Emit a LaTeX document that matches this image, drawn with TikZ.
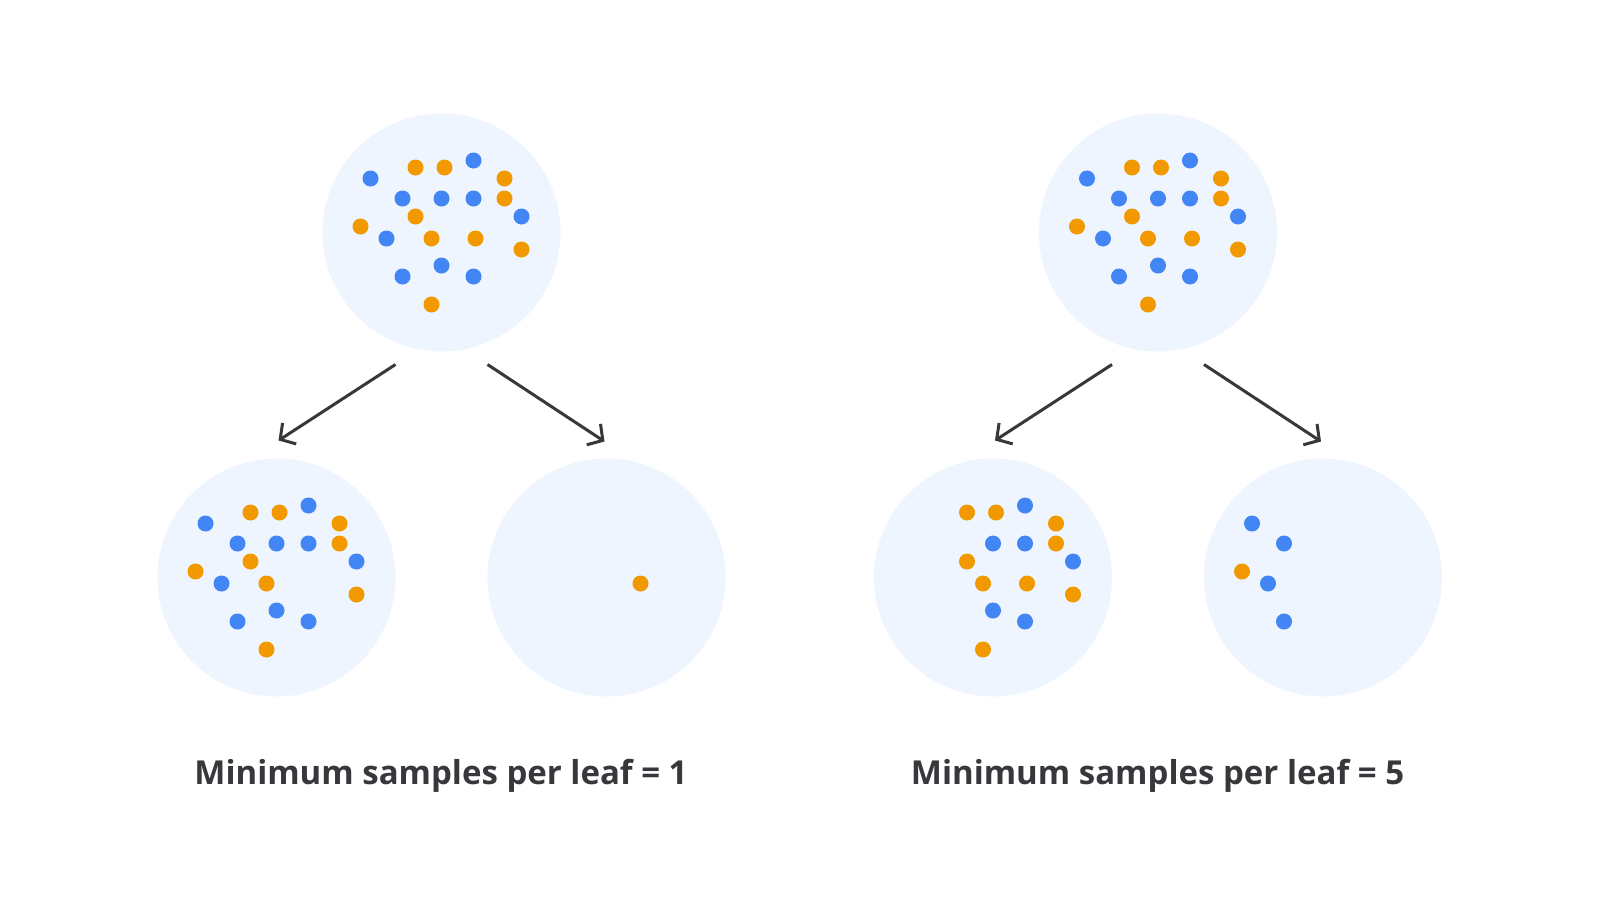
\documentclass[tikz,border=0pt]{standalone}
\usepackage{fontspec}
\setmainfont{Open Sans}
\usepackage{xcolor}
\usetikzlibrary{arrows.meta}

\definecolor{dotblue}{HTML}{4285F4}
\definecolor{dotorange}{HTML}{F29900}
\definecolor{leafbg}{HTML}{EEF5FE}
\definecolor{inkgray}{HTML}{37383C}

\tikzset{
  leaf/.style={circle, fill=leafbg, minimum size=238pt, inner sep=0pt},
  bdot/.style={fill=dotblue},
  odot/.style={fill=dotorange},
  branch/.style={draw=inkgray, line width=3pt, -{Straight Barb[length=11pt,width=25pt]}},
  caption/.style={text=inkgray, font=\fontsize{33}{38}\selectfont\bfseries}
}

\begin{document}
\begin{tikzpicture}[x=1pt,y=-1pt]
\useasboundingbox [fill=white] (0,0) rectangle (1600,900);

% min samples per leaf = 1
\node [leaf] (root1) at (441.5,232.5) {};
\node [leaf] (left1) at (276.5,577.5) {};
\node [leaf] (right1) at (606.5,577.5) {};

\begin{scope}[shift={(root1)}]
	\fill [bdot] (-71,-54) circle (8pt);
	\fill [odot] (-26,-65) circle (8pt);
	\fill [odot] (3,-65) circle (8pt);
	\fill [bdot] (32,-72) circle (8pt);
	\fill [odot] (63,-54) circle (8pt);
	\fill [bdot] (-39,-34) circle (8pt);
	\fill [bdot] (0,-34) circle (8pt);
	\fill [bdot] (32,-34) circle (8pt);
	\fill [odot] (63,-34) circle (8pt);
	\fill [odot] (-26,-16) circle (8pt);
	\fill [bdot] (80,-16) circle (8pt);
	\fill [odot] (-81,-6) circle (8pt);
	\fill [bdot] (-55,6) circle (8pt);
	\fill [odot] (-10,6) circle (8pt);
	\fill [odot] (34,6) circle (8pt);
	\fill [odot] (80,17) circle (8pt);
	\fill [bdot] (0,33) circle (8pt);
	\fill [bdot] (-39,44) circle (8pt);
	\fill [bdot] (32,44) circle (8pt);
	\fill [odot] (-10,72) circle (8pt);
\end{scope}

\begin{scope}[shift={(left1)}]
	\fill [bdot] (-71,-54) circle (8pt);
	\fill [odot] (-26,-65) circle (8pt);
	\fill [odot] (3,-65) circle (8pt);
	\fill [bdot] (32,-72) circle (8pt);
	\fill [odot] (63,-54) circle (8pt);
	\fill [bdot] (-39,-34) circle (8pt);
	\fill [bdot] (0,-34) circle (8pt);
	\fill [bdot] (32,-34) circle (8pt);
	\fill [odot] (63,-34) circle (8pt);
	\fill [odot] (-26,-16) circle (8pt);
	\fill [bdot] (80,-16) circle (8pt);
	\fill [odot] (-81,-6) circle (8pt);
	\fill [bdot] (-55,6) circle (8pt);
	\fill [odot] (-10,6) circle (8pt);
	\fill [odot] (80,17) circle (8pt);
	\fill [bdot] (0,33) circle (8pt);
	\fill [bdot] (-39,44) circle (8pt);
	\fill [bdot] (32,44) circle (8pt);
	\fill [odot] (-10,72) circle (8pt);
\end{scope}

\begin{scope}[shift={(right1)}]
	\fill [odot] (34,6) circle (8pt);
\end{scope}

\coordinate (root1-l) at (395.5,364.5);
\coordinate (left1-t) at (278.5,440.5);
\coordinate (root1-r) at (487.5,364.5);
\coordinate (right1-t) at (604.5,441.5);
\draw [branch] (root1-l) -- (left1-t);
\draw [branch] (root1-r) -- (right1-t);

\node [caption] (cap1) at (441,776) {Minimum samples per leaf = 1};

% min samples per leaf = 5
\node [leaf] (root5) at (1158,232.5) {};
\node [leaf] (left5) at (993,577.5) {};
\node [leaf] (right5) at (1323,577.5) {};

\begin{scope}[shift={(root5)}]
	\fill [bdot] (-71,-54) circle (8pt);
	\fill [odot] (-26,-65) circle (8pt);
	\fill [odot] (3,-65) circle (8pt);
	\fill [bdot] (32,-72) circle (8pt);
	\fill [odot] (63,-54) circle (8pt);
	\fill [bdot] (-39,-34) circle (8pt);
	\fill [bdot] (0,-34) circle (8pt);
	\fill [bdot] (32,-34) circle (8pt);
	\fill [odot] (63,-34) circle (8pt);
	\fill [odot] (-26,-16) circle (8pt);
	\fill [bdot] (80,-16) circle (8pt);
	\fill [odot] (-81,-6) circle (8pt);
	\fill [bdot] (-55,6) circle (8pt);
	\fill [odot] (-10,6) circle (8pt);
	\fill [odot] (34,6) circle (8pt);
	\fill [odot] (80,17) circle (8pt);
	\fill [bdot] (0,33) circle (8pt);
	\fill [bdot] (-39,44) circle (8pt);
	\fill [bdot] (32,44) circle (8pt);
	\fill [odot] (-10,72) circle (8pt);
\end{scope}

\begin{scope}[shift={(left5)}]
	\fill [odot] (-26,-65) circle (8pt);
	\fill [odot] (3,-65) circle (8pt);
	\fill [bdot] (32,-72) circle (8pt);
	\fill [odot] (63,-54) circle (8pt);
	\fill [bdot] (0,-34) circle (8pt);
	\fill [bdot] (32,-34) circle (8pt);
	\fill [odot] (63,-34) circle (8pt);
	\fill [odot] (-26,-16) circle (8pt);
	\fill [bdot] (80,-16) circle (8pt);
	\fill [odot] (-10,6) circle (8pt);
	\fill [odot] (34,6) circle (8pt);
	\fill [odot] (80,17) circle (8pt);
	\fill [bdot] (0,33) circle (8pt);
	\fill [bdot] (32,44) circle (8pt);
	\fill [odot] (-10,72) circle (8pt);
\end{scope}

\begin{scope}[shift={(right5)}]
	\fill [bdot] (-71,-54) circle (8pt);
	\fill [bdot] (-39,-34) circle (8pt);
	\fill [odot] (-81,-6) circle (8pt);
	\fill [bdot] (-55,6) circle (8pt);
	\fill [bdot] (-39,44) circle (8pt);
\end{scope}

\coordinate (root5-l) at (1112,364.5);
\coordinate (left5-t) at (995,440.5);
\coordinate (root5-r) at (1204,364.5);
\coordinate (right5-t) at (1321,441.5);
\draw [branch] (root5-l) -- (left5-t);
\draw [branch] (root5-r) -- (right5-t);

\node [caption] (cap5) at (1157.5,776) {Minimum samples per leaf = 5};

\end{tikzpicture}
\end{document}
